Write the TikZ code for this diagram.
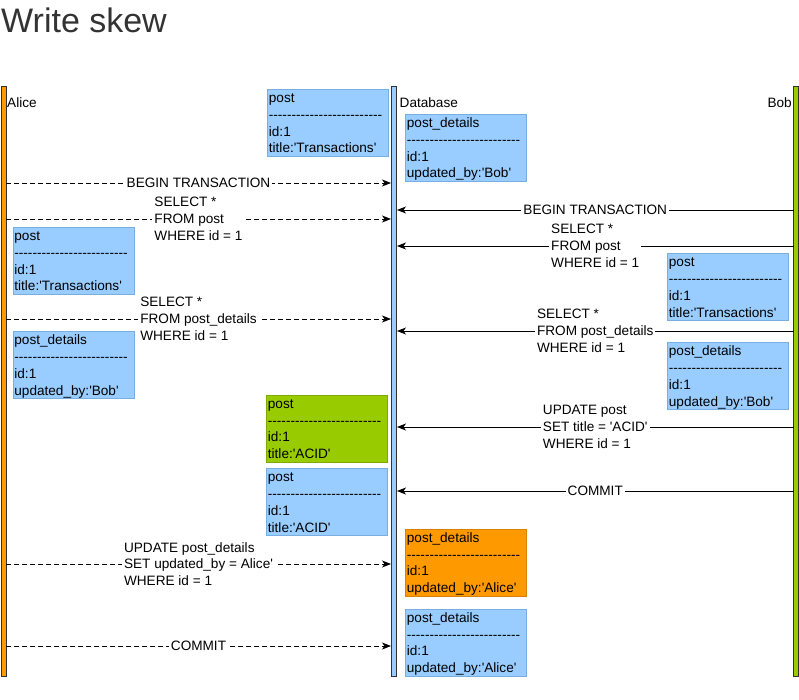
\documentclass[tikz,border=0pt]{standalone}
\usepackage{fontspec}
\setmainfont{Liberation Sans}[Ligatures=TeXOff]
\usetikzlibrary{arrows.meta}
\definecolor{boxblue}{HTML}{99CCFF}
\definecolor{boxblueb}{HTML}{7AAEE0}
\definecolor{boxgreen}{HTML}{99CC00}
\definecolor{boxgreenb}{HTML}{7FAA00}
\definecolor{boxorange}{HTML}{FF9900}
\definecolor{boxorangeb}{HTML}{D98200}
\definecolor{titlegray}{HTML}{333333}
\definecolor{barline}{HTML}{333333}
\newcommand{\dl}{-------------------------}
\newcommand{\rectext}[3]{\rule{0pt}{13pt}#1\\\dl\\id:1\\#3\rule[-3pt]{0pt}{3pt}}
\tikzset{
  txt/.style={font=\fontsize{13.6}{16.7}\selectfont},
  lifebar/.style={draw=barline, line width=1pt, minimum width=5pt, minimum height=589pt, inner sep=0pt},
  rec/.style={txt, anchor=north west, text width=118pt, align=left, inner xsep=1.5pt, inner ysep=0.5pt, line width=0.8pt},
  bluerec/.style={rec, fill=boxblue, draw=boxblueb},
  greenrec/.style={rec, fill=boxgreen, draw=boxgreenb},
  orangerec/.style={rec, fill=boxorange, draw=boxorangeb},
  amsg/.style={line width=0.9pt, dash pattern=on 5pt off 3pt, -{Stealth[length=9pt,width=7pt,inset=2.5pt]}},
  bmsg/.style={line width=0.9pt, -{Stealth[length=9pt,width=7pt,inset=2.5pt]}},
  lbl/.style={txt, fill=white, align=left, inner xsep=2pt, inner ysep=0pt},
  who/.style={txt, inner sep=0pt}
}
\begin{document}
\begin{tikzpicture}[x={(1pt,0pt)}, y={(0pt,-1pt)}]
\useasboundingbox (0,0) rectangle (799,700);
% title
\node[anchor=base west, inner sep=0pt, font=\fontsize{34}{40}\selectfont, text=titlegray] (title) at (1,33) {Write skew};
% lifelines
\node[lifebar, fill=boxorange] (alice) at (3.5,381.5) {};
\node[lifebar, fill=boxblue] (db) at (394,381.5) {};
\node[lifebar, fill=boxgreen] (bob) at (796,381.5) {};
\node[who, anchor=base west] (alicelbl) at (7,107.5) {Alice};
\node[who, anchor=base west] (dblbl) at (399.5,107.5) {Database};
\node[who, anchor=base east] (boblbl) at (792,107.5) {Bob};
% anchor coordinates on lifelines
\foreach \n/\y in {1/183,2/219,3/319,4/564,5/646}{
  \coordinate (a\n) at (6,\y);
  \coordinate (da\n) at (391,\y);
}
\foreach \n/\y in {1/210,2/246,3/331,4/427,5/491}{
  \coordinate (b\n) at (793.5,\y);
  \coordinate (db\n) at (397,\y);
}
% Alice messages
\draw[amsg] (a1) -- node[lbl] (la1) {BEGIN TRANSACTION} (da1);
\draw[amsg] (a2) -- node[lbl] (la2) {SELECT *\\FROM post\\WHERE id = 1} (da2);
\draw[amsg] (a3) -- node[lbl] (la3) {SELECT *\\FROM post\_details\\WHERE id = 1} (da3);
\draw[amsg] (a4) -- node[lbl] (la4) {UPDATE post\_details\\SET updated\_by = Alice'\\WHERE id = 1} (da4);
\draw[amsg] (a5) -- node[lbl] (la5) {COMMIT} (da5);
% Bob messages
\draw[bmsg] (b1) -- node[lbl] (lb1) {BEGIN TRANSACTION} (db1);
\draw[bmsg] (b2) -- node[lbl] (lb2) {SELECT *\\FROM post\\WHERE id = 1} (db2);
\draw[bmsg] (b3) -- node[lbl] (lb3) {SELECT *\\FROM post\_details\\WHERE id = 1} (db3);
\draw[bmsg] (b4) -- node[lbl] (lb4) {UPDATE post\\SET title = 'ACID'\\WHERE id = 1} (db4);
\draw[bmsg] (b5) -- node[lbl] (lb5) {COMMIT} (db5);
% records
\node[bluerec] (r1) at (267,89) {\rectext{post}{}{title:'Transactions'}};
\node[bluerec] (r2) at (405,114) {\rectext{post\_details}{}{updated\_by:'Bob'}};
\node[bluerec] (r3) at (12.5,227) {\rectext{post}{}{title:'Transactions'}};
\node[bluerec] (r4) at (12.5,331) {\rectext{post\_details}{}{updated\_by:'Bob'}};
\node[greenrec] (r5) at (266,394.5) {\rectext{post}{}{title:'ACID'}};
\node[bluerec] (r6) at (266,468) {\rectext{post}{}{title:'ACID'}};
\node[bluerec] (r7) at (667,253) {\rectext{post}{}{title:'Transactions'}};
\node[bluerec] (r8) at (667,342) {\rectext{post\_details}{}{updated\_by:'Bob'}};
\node[orangerec] (r9) at (405,528.5) {\rectext{post\_details}{}{updated\_by:'Alice'}};
\node[bluerec] (r10) at (405,608.5) {\rectext{post\_details}{}{updated\_by:'Alice'}};
\end{tikzpicture}
\end{document}
